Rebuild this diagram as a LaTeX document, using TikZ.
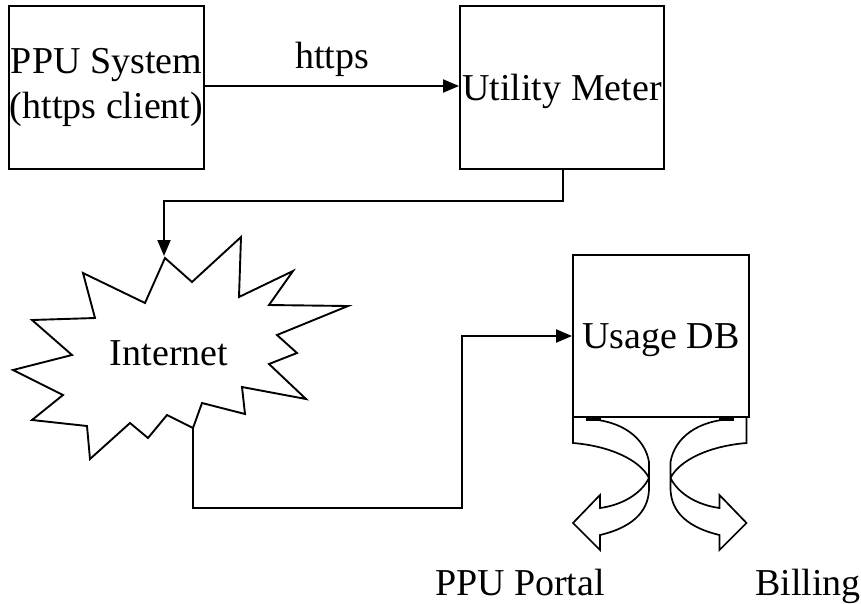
\documentclass[tikz,border=0pt]{standalone}
\usepackage{fontspec}
\setmainfont{Liberation Serif}
\usetikzlibrary{arrows.meta}
\begin{document}
\begin{tikzpicture}[x=1pt,y=-1pt,
  every node/.style={font=\fontsize{38}{45}\selectfont},
  box/.style={draw,line width=1.9pt,inner sep=0pt,align=center},
  conn/.style={line width=1.9pt,-{Triangle[length=16pt,width=13pt]}},
  burst/.style={line width=1.9pt,line join=miter},
  bigarrow/.style={line width=1.7pt,line join=miter},
  lbl/.style={anchor=base,inner sep=0pt}]
\fill[white] (0,0) rectangle (861,603);
\useasboundingbox (0,0) rectangle (861,603);

% boxes
\node[box,minimum width=195pt,minimum height=163pt] (sys) at (106.5,87.5) {PPU System\\(https client)};
\node[box,minimum width=204pt,minimum height=163pt,text height=25pt,text depth=0pt] (meter) at (562,87.5) {Utility Meter};
\node[box,minimum width=176pt,minimum height=162pt,text height=25pt,text depth=0pt] (db) at (661,336) {Usage DB};

% Internet burst
\coordinate (itop) at (165,258);
\coordinate (ibot) at (193,428);
\draw[burst] (itop) -- (192,282) -- (241,237) -- (239,297) -- (293,271) -- (269,305)
  -- (348,306) -- (277,335) -- (297,353) -- (269,364) -- (306,399) -- (242,387)
  -- (245,414) -- (202,403) -- (ibot) -- (167,415) -- (148,438) -- (130,423)
  -- (90,459) -- (87,426) -- (32,420) -- (63,395) -- (13,370) -- (72,355)
  -- (32,320) -- (95,318) -- (83,273) -- (145,303) -- cycle;
\node[lbl] (inet) at (169,365) {Internet};

% connectors
\draw[conn] (sys.east |- 0,86) -- (meter.west |- 0,86)
  node[midway,above=8pt,inner sep=0pt] (https) {https};
\coordinate (m1) at (563,201);
\coordinate (iarr) at (164,256);
\draw[conn] (meter.south -| m1) -- (m1) -| (iarr);
\coordinate (b1) at (462,508);
\draw[conn] (ibot) |- (b1) |- (db.west);

% curved block arrows
\begin{scope}
  \draw[bigarrow] (573,418) -- (573,443) .. controls (610,446) and (640,460) .. (649,478)
    .. controls (641,494) and (622,505) .. (600,508) -- (600,495) -- (573,523)
    -- (600,550) -- (600,535) .. controls (638,526) and (649,507) .. (649,488)
    -- (649,462) .. controls (645,438) and (622,420) .. (586,419);
  \draw[line width=3pt] (586,419) -- (601,419);
\end{scope}
\begin{scope}[xshift=1319.5pt,xscale=-1]
  \draw[bigarrow] (573,418) -- (573,443) .. controls (610,446) and (640,460) .. (649,478)
    .. controls (641,494) and (622,505) .. (600,508) -- (600,495) -- (573,523)
    -- (600,550) -- (600,535) .. controls (638,526) and (649,507) .. (649,488)
    -- (649,462) .. controls (645,438) and (622,420) .. (586,419);
  \draw[line width=3pt] (586,419) -- (601,419);
\end{scope}

\node[lbl] (portal) at (520,595) {PPU Portal};
\node[lbl] (billing) at (808,595) {Billing};
\end{tikzpicture}
\end{document}
